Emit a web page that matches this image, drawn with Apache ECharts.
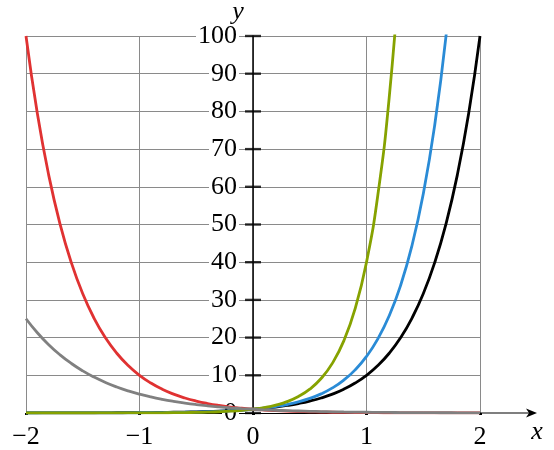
<!DOCTYPE html>
<html>
<head>
<meta charset="utf-8">
<script src="https://cdn.jsdelivr.net/npm/echarts@6/dist/echarts.min.js"></script>
<style>
  html, body { margin: 0; padding: 0; background: #fff; }
  #main { width: 554px; height: 450px; }
</style>
</head>
<body>
<div id="main"></div>
<script>
// x samples, step 0.1
var xVals = [-2, -1.9, -1.8, -1.7, -1.6, -1.5, -1.4, -1.3, -1.2, -1.1, -1, -0.9, -0.8, -0.7, -0.6, -0.5, -0.4, -0.3, -0.2, -0.1,
  0, 0.1, 0.2, 0.3, 0.4, 0.5, 0.6, 0.7, 0.8, 0.9, 1, 1.1, 1.2, 1.3, 1.4, 1.5, 1.6, 1.7, 1.8, 1.9, 2];

// y = 10^x (black)
var blackY = [0.01, 0.013, 0.016, 0.02, 0.025, 0.032, 0.04, 0.05, 0.063, 0.079, 0.1, 0.126, 0.158, 0.2, 0.251, 0.316, 0.398, 0.501, 0.631, 0.794,
  1, 1.259, 1.585, 1.995, 2.512, 3.162, 3.981, 5.012, 6.31, 7.943, 10, 12.59, 15.85, 19.95, 25.12, 31.62, 39.81, 50.12, 63.1, 79.43, 100];
// y = 15^x (blue), up to x = 1.8
var blueY = [0.004, 0.006, 0.008, 0.01, 0.013, 0.017, 0.023, 0.03, 0.039, 0.051, 0.067, 0.087, 0.115, 0.15, 0.197, 0.258, 0.339, 0.444, 0.582, 0.763,
  1, 1.311, 1.719, 2.253, 2.954, 3.873, 5.078, 6.657, 8.727, 11.44, 15, 19.67, 25.78, 33.8, 44.31, 58.09, 76.16, 99.85, 130.9];
// y = 40^x (green), up to x = 1.3
var greenY = [0.001, 0.001, 0.001, 0.002, 0.003, 0.004, 0.006, 0.008, 0.012, 0.017, 0.025, 0.036, 0.052, 0.076, 0.109, 0.158, 0.229, 0.331, 0.478, 0.692,
  1, 1.446, 2.091, 3.024, 4.373, 6.325, 9.146, 13.23, 19.13, 27.66, 40, 57.84, 83.65, 120.96];
// y = 10^-x (red)
var redY = [100, 79.43, 63.1, 50.12, 39.81, 31.62, 25.12, 19.95, 15.85, 12.59, 10, 7.943, 6.31, 5.012, 3.981, 3.162, 2.512, 1.995, 1.585, 1.259,
  1, 0.794, 0.631, 0.501, 0.398, 0.316, 0.251, 0.2, 0.158, 0.126, 0.1, 0.079, 0.063, 0.05, 0.04, 0.032, 0.025, 0.02, 0.016, 0.013, 0.01];
// y = 5^-x (gray)
var grayY = [25, 21.29, 18.12, 15.43, 13.13, 11.18, 9.518, 8.103, 6.899, 5.873, 5, 4.257, 3.624, 3.085, 2.627, 2.236, 1.904, 1.621, 1.38, 1.175,
  1, 0.851, 0.725, 0.617, 0.525, 0.447, 0.381, 0.324, 0.276, 0.235, 0.2, 0.17, 0.145, 0.123, 0.105, 0.089, 0.076, 0.065, 0.055, 0.047, 0.04];

var yTicks = [0, 10, 20, 30, 40, 50, 60, 70, 80, 90, 100];

var FONT = "'Liberation Serif', 'DejaVu Serif', serif";
var GRID_L = 26, GRID_R = 74, GRID_T = 36, GRID_B = 37;

function pairs(ys) {
  return ys.map(function (v, i) { return [xVals[i], v]; });
}

function curve(name, ys, color, z) {
  return {
    name: name,
    type: 'line',
    data: pairs(ys),
    showSymbol: false,
    smooth: 0.5,
    clip: true,
    z: z,
    lineStyle: { color: color, width: 2.8 },
    silent: true
  };
}

var chart = echarts.init(document.getElementById('main'), null, { renderer: 'canvas' });

// y axis sits at x = 0, i.e. halfway across the plot
var yAxisOffset = -(554 - GRID_L - GRID_R) / 2;

var option = {
  animation: false,
  grid: { left: GRID_L, right: GRID_R, top: GRID_T, bottom: GRID_B, containLabel: false, outerBoundsMode: 'none' },
  xAxis: {
    type: 'value',
    min: -2,
    max: 2,
    interval: 1,
    axisLine: { show: true, onZero: true, lineStyle: { color: '#000', width: 1.2 } },
    axisTick: { show: true, length: 2, lineStyle: { color: '#000', width: 3 } },
    axisLabel: {
      color: '#000',
      fontSize: 26,
      fontFamily: FONT,
      margin: 11,
      formatter: function (v) { return String(v).replace('-', '\u2212'); }
    },
    splitLine: { show: true, lineStyle: { color: '#8a8a8a', width: 1 } }
  },
  yAxis: {
    type: 'value',
    min: 0,
    max: 100,
    interval: 10,
    position: 'left',
    offset: yAxisOffset,
    axisLine: { show: true, onZero: false, lineStyle: { color: '#000', width: 1.5 } },
    axisTick: { show: false },
    axisLabel: {
      color: '#000',
      fontSize: 26,
      fontFamily: FONT,
      margin: 14,
      backgroundColor: '#fff',
      padding: [0, 2, 0, 2]
    },
    splitLine: { show: true, lineStyle: { color: '#8a8a8a', width: 1 } }
  },
  series: [
    {
      type: 'scatter',
      data: yTicks.map(function (v) { return [0, v]; }),
      symbol: 'rect',
      symbolSize: [16, 2.4],
      itemStyle: { color: '#000' },
      silent: true,
      z: 1
    },
    curve('10^x', blackY, '#000000', 2),
    curve('15^x', blueY, '#2a8bd6', 3),
    curve('10^-x', redY, '#e03232', 4),
    curve('40^x', greenY, '#86a200', 5),
    curve('5^-x', grayY, '#808080', 6)
  ]
};

chart.setOption(option);

// axis arrows and names
var o = chart.convertToPixel({ gridIndex: 0 }, [0, 0]);
var top = chart.convertToPixel({ gridIndex: 0 }, [0, 100]);
var right = chart.convertToPixel({ gridIndex: 0 }, [2, 0]);
var xTip = right[0] + 57;
var yTip = top[1] - 19;

chart.setOption({
  graphic: [
    { type: 'line', shape: { x1: right[0], y1: o[1], x2: xTip - 6, y2: o[1] }, style: { stroke: '#000', lineWidth: 1.2 }, z: 10 },
    { type: 'polygon', shape: { points: [[xTip, o[1]], [xTip - 11, o[1] - 4.5], [xTip - 8, o[1]], [xTip - 11, o[1] + 4.5]] }, style: { fill: '#000' }, z: 10 },
    { type: 'line', shape: { x1: o[0], y1: top[1], x2: o[0], y2: yTip + 6 }, style: { stroke: '#000', lineWidth: 1.5 }, z: 10 },
    { type: 'polygon', shape: { points: [[o[0], yTip], [o[0] - 4.5, yTip + 11], [o[0], yTip + 8], [o[0] + 4.5, yTip + 11]] }, style: { fill: '#000' }, z: 10 },
    { type: 'text', x: xTip, y: o[1] + 19, style: { text: 'x', font: 'italic 26px ' + FONT, fill: '#000', textAlign: 'center', textVerticalAlign: 'middle' }, z: 10 },
    { type: 'text', x: o[0] - 15, y: 12, style: { text: 'y', font: 'italic 26px ' + FONT, fill: '#000', textAlign: 'center', textVerticalAlign: 'middle' }, z: 10 }
  ]
});
</script>
</body>
</html>
